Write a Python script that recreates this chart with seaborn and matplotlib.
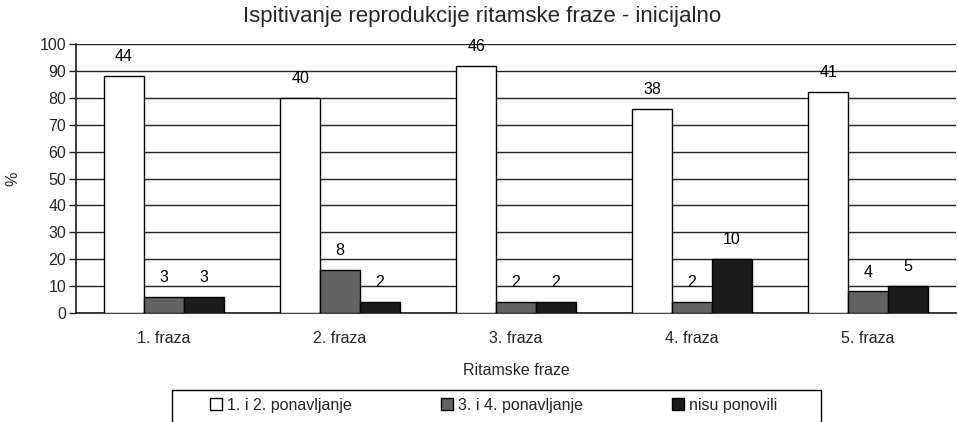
import matplotlib
matplotlib.use("Agg")
import matplotlib.pyplot as plt
import numpy as np
import pandas as pd
import seaborn as sns

fraze = ["1. fraza", "2. fraza", "3. fraza", "4. fraza", "5. fraza"]
serije = ["1. i 2. ponavljanje", "3. i 4. ponavljanje", "nisu ponovili"]

# postotak (visina stupca)
proc_12 = [88, 80, 92, 76, 82]
proc_34 = [6, 16, 4, 4, 8]
proc_nisu = [6, 4, 4, 20, 10]

# broj ispitanika (oznaka iznad stupca)
broj_12 = [44, 40, 46, 38, 41]
broj_34 = [3, 8, 2, 2, 4]
broj_nisu = [3, 2, 2, 10, 5]

boje = ["#ffffff", "#626262", "#1c1c1c"]

df = pd.DataFrame({
    "fraza": fraze * 3,
    "serija": [serije[0]] * 5 + [serije[1]] * 5 + [serije[2]] * 5,
    "postotak": proc_12 + proc_34 + proc_nisu,
    "broj": broj_12 + broj_34 + broj_nisu,
})

sns.set_theme(style="white")
plt.rcParams["font.family"] = ["Liberation Sans", "DejaVu Sans"]

fs = 11.5
fig = plt.figure(figsize=(9.58, 4.22), dpi=100)
ax = fig.add_axes([0.0793, 0.2583, 0.9186, 0.6374])

sns.barplot(data=df, x="fraza", y="postotak", hue="serija", hue_order=serije,
            palette=boje, width=0.68, edgecolor="black", linewidth=1.0,
            saturation=1, ax=ax, zorder=3)

for cont, lista in zip(ax.containers, [broj_12, broj_34, broj_nisu]):
    for rect, b in zip(cont, lista):
        ax.annotate(str(b), (rect.get_x() + rect.get_width() / 2, rect.get_height()),
                    xytext=(0, 14), textcoords="offset points",
                    ha="center", va="center", fontsize=fs, color="black")

ax.set_ylim(0, 100)
ax.set_xlim(-0.5, 4.5)
ax.set_yticks(range(0, 101, 10))
ax.yaxis.grid(True, color="#222222", linewidth=1.0, zorder=0)
ax.set_axisbelow(True)
for s in ["right", "top"]:
    ax.spines[s].set_visible(False)
ax.spines["left"].set_color("#222222")
ax.spines["bottom"].set_color("#222222")

ax.set_xticks(np.arange(-0.5, 4.6, 1), minor=True)
ax.tick_params(axis="x", which="major", length=0, labelsize=fs, pad=13)
ax.tick_params(axis="x", which="minor", length=5, width=1, color="#222222", direction="out")
ax.tick_params(axis="y", length=5, width=1, color="#222222", direction="out", labelsize=fs, pad=2, left=True)

ax.set_xlabel("Ritamske fraze", fontsize=fs, labelpad=12)
ax.set_ylabel("%", fontsize=fs, labelpad=14)
fig.suptitle("Ispitivanje reprodukcije ritamske fraze - inicijalno", fontsize=16, x=0.503, y=0.985)

# legenda bez okvira + okvir kao u originalu (odrezan na dnu)
ax.legend_.remove()
handles = [plt.Rectangle((0, 0), 1, 1, facecolor=c, edgecolor="black", linewidth=1) for c in boje]
leg = fig.legend(handles, serije, loc="center", bbox_to_anchor=(0.515, 0.04), ncol=3,
                 frameon=False, fontsize=fs,
                 handlelength=0.75, handleheight=0.75, handletextpad=0.3, columnspacing=5.6,
                 borderpad=0, borderaxespad=0)
okvir = plt.Rectangle((172 / 958, -0.01), (821 - 172) / 958, (422 - 390) / 422 + 0.01,
                      transform=fig.transFigure, fill=False, edgecolor="black", linewidth=1.0)
fig.patches.append(okvir)

fig.savefig("out.png", dpi=100)
